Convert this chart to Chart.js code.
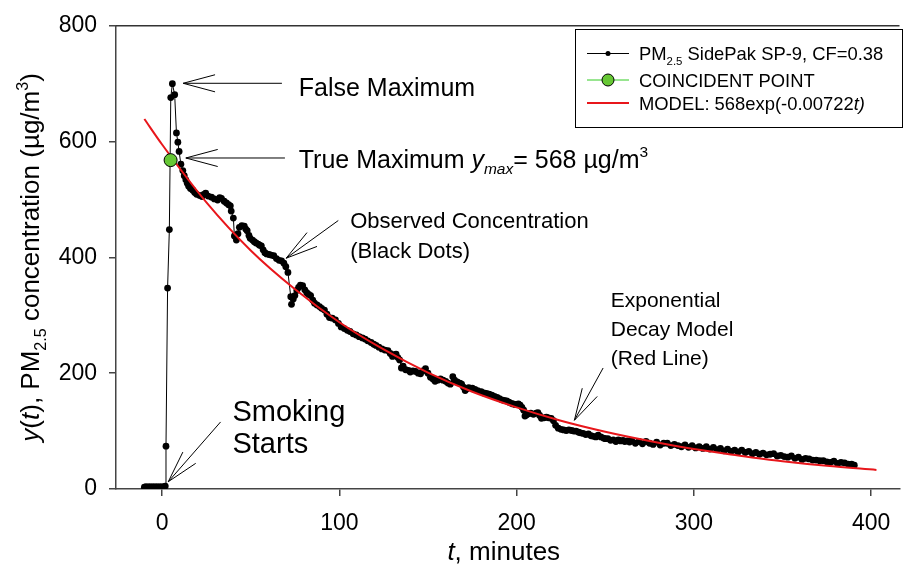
<!DOCTYPE html>
<html>
<head>
<meta charset="utf-8">
<title>PM2.5 Decay</title>
<script src="https://cdn.jsdelivr.net/npm/chart.js"></script>
<style>
  html, body { margin: 0; padding: 0; background: #fff; }
</style>
</head>
<body>
<canvas id="decayChart" width="907" height="567"></canvas>
<script>
// observed SidePak readings (t in minutes, y in ug/m3)
var obsT = [
  -10, -9, -8, -7, -6, -5, -4, -3, -2, -1,
  0, 1, 1.8, 2.2, 3.1, 4.1, 4.9, 5.8, 7.1, 8.1,
  8.9, 9.6, 10.6, 11.7, 12.5, 13.4, 14.2, 15, 16, 17.3,
  18.4, 19.5, 21.2, 22.5, 23.6, 24.6, 26, 27.9, 29.5, 31.3,
  32.5, 33.5, 35, 36.3, 37.5, 38.5, 39, 40.2, 40.8, 41.9,
  42.8, 43.6, 45, 46.4, 47.2, 48, 49, 49.7, 51, 52,
  53, 54.2, 55, 56, 57, 58, 59, 60.3, 61.5, 63,
  64.5, 66, 67.4, 68.7, 69.8, 71, 72.6, 73, 74, 74.9,
  76, 77, 78, 79.3, 80.5, 81.6, 82.7, 83.8, 85, 86,
  87.4, 88.8, 90, 91.6, 93, 94.4, 96, 97.8, 99.5, 101,
  102.8, 104.5, 106, 107.8, 109.5, 111.2, 113, 114.5, 116, 117.9,
  119.4, 120.7, 122.3, 124, 125.7, 127.4, 128.7, 130, 131, 132,
  133, 134, 135, 136, 137.4, 139, 140, 141.5, 143, 144.5,
  145.8, 147, 148.6, 150, 151.4, 152.8, 154, 155.5, 157, 158.5,
  160, 161.3, 162.6, 164, 165, 166.5, 168, 169, 170, 171,
  172, 173, 175, 176.5, 178, 180, 181.5, 183, 184.5, 186,
  187.5, 189, 190.3, 191.6, 193, 194.4, 195.7, 197, 198, 199,
  200, 201, 202, 203, 204, 204.7, 205.5, 206.7, 208, 209.5,
  211, 212, 213, 214, 215.5, 216.8, 218, 219.5, 220.8, 222,
  223.5, 225, 226.5, 228, 229.5, 231, 232.3, 233.5, 235, 236,
  237.5, 239, 240.5, 242, 243.4, 244.7, 246, 247.5, 249, 250,
  251.5, 253, 254.5, 256, 257.4, 258.7, 260, 261, 262.5, 263.7,
  265, 267, 269, 271, 273, 275, 277, 279, 281, 283,
  285, 287, 289, 291, 293, 295, 297, 299, 301, 303,
  305, 307, 309, 311, 313, 315, 317, 319, 321, 323,
  325, 327, 329, 331, 333, 335, 337, 339, 341, 343,
  345, 347, 349, 351, 353, 355, 357, 359, 361, 363,
  365, 367, 369, 371, 373, 375, 377, 379, 381, 383,
  385, 387, 389, 390.5
];
var obsY = [
  3, 4, 3, 4, 3, 4, 3, 4, 3, 4,
  3, 4, 5, 74, 347, 448, 676, 700, 681, 615,
  599, 583, 561, 550, 541, 534, 528, 523, 519, 516,
  512, 509, 507, 505, 509, 511, 506, 504, 501, 499,
  503, 502, 497, 494, 491, 489, 480, 468, 437, 430,
  441, 452, 455, 454, 449, 446, 438, 433, 430, 427,
  425, 423, 421, 420, 413, 408, 406, 405, 404, 403,
  398, 395, 394, 390, 384, 374, 332, 319, 328, 334,
  343, 348, 352, 351, 344, 339, 336, 334, 326, 321,
  318, 315, 312, 309, 302, 296, 295, 292, 286, 280,
  277, 274, 272, 268, 266, 263, 261, 259, 256, 253,
  250, 248, 245, 242, 240, 239, 234, 229, 232, 233,
  227, 223, 209, 212, 206, 205, 202, 204, 203, 200,
  199, 204, 208, 200, 193, 190, 186, 188, 190, 188,
  186, 183, 181, 194, 188, 185, 183, 181, 176, 170,
  173, 175, 174, 172, 170, 168, 166, 165, 164, 162,
  160, 158, 156, 154, 153, 152, 150, 148, 147, 146,
  146, 147, 145, 141, 136, 126, 128, 130, 131, 129,
  131, 132, 127, 122, 123, 124, 123, 122, 118, 110,
  105, 103, 102, 101, 102, 101, 100, 100, 98, 97,
  96, 94, 95, 92, 91, 90, 93, 90, 88, 87,
  87, 84, 85, 82, 85, 83, 84, 82, 83, 81,
  83, 79, 82, 78, 82, 79, 77, 81, 76, 79,
  79, 75, 77, 75, 73, 76, 72, 75, 71, 73,
  70, 73, 69, 72, 68, 70, 66, 69, 65, 67,
  64, 67, 63, 65, 61, 63, 60, 62, 59, 60,
  61, 57, 58, 56, 55, 57, 53, 55, 51, 53,
  52, 50, 50, 49, 49, 47, 46, 48, 44, 46,
  45, 43, 43, 41
];

// coincident point (true maximum)
var peakT = [4.8];
var peakY = [568];

// fitted model curve
var modelT = [-10, 0, 25, 50, 75, 100, 125, 150, 175, 200, 225, 250, 275, 300, 325, 350, 375, 403];
var modelY = [639, 595, 495, 412, 345, 288, 241, 201, 168, 141, 118, 99, 83, 69, 58, 48, 40, 33];

var xTicks = [0, 100, 200, 300, 400];
var yTicks = [0, 200, 400, 600, 800];

var FONT = '"Liberation Sans", Arial, sans-serif';
var RED = '#e8161b';
var GREEN = '#66c734';

function toXY(ts, ys) {
  return ts.map(function (t, i) { return { x: t, y: ys[i] }; });
}

// text notes with arrows, anchored in data units
var notes = [
  { tip: [11.9, 700.7], tail: [67.6, 700.7], at: [77.1, 695], size: 25, gap: 0,
    lines: [[['False Maximum']]] },
  { tip: [13.4, 571.7], tail: [69.3, 571.7], at: [77.1, 570], size: 25, gap: 0,
    lines: [[['True Maximum '], ['y', 'i'], ['max', 'isub'], ['= 568 \u00b5g/m'], ['3', 'sup']]] },
  { tip: [70, 398.6], tail: [99.4, 463.7], at: [106.1, 464.5], size: 22, gap: 30,
    lines: [[['Observed Concentration']], [['(Black Dots)']]] },
  { tip: [232.6, 118.7], tail: [248.8, 209], at: [253.1, 326.9], size: 21, gap: 29,
    lines: [[['Exponential']], [['Decay Model']], [['(Red Line)']]] },
  { tip: [3.5, 12.6], tail: [33, 115.8], at: [39.7, 136], size: 29, gap: 32,
    lines: [[['Smoking']], [['Starts']]] }
];

function drawRich(ctx, x, y, parts, size) {
  var cx = x;
  parts.forEach(function (p) {
    var s = size, dy = 0, style = '';
    if (p[1] === 'i') style = 'italic ';
    if (p[1] === 'sub' || p[1] === 'isub') { s = size * 0.62; dy = size * 0.25; }
    if (p[1] === 'isub') style = 'italic ';
    if (p[1] === 'sup') { s = size * 0.62; dy = -size * 0.42; }
    ctx.font = style + s + 'px ' + FONT;
    ctx.fillText(p[0], cx, y + dy);
    cx += ctx.measureText(p[0]).width;
  });
  return cx;
}

function richWidth(ctx, parts, size) {
  var w = 0;
  parts.forEach(function (p) {
    var s = size, style = '';
    if (p[1] === 'i' || p[1] === 'isub') style = 'italic ';
    if (p[1] === 'sub' || p[1] === 'isub' || p[1] === 'sup') s = size * 0.62;
    ctx.font = style + s + 'px ' + FONT;
    w += ctx.measureText(p[0]).width;
  });
  return w;
}

function drawArrow(ctx, tip, tail) {
  var ang = Math.atan2(tail.y - tip.y, tail.x - tip.x);
  var L = 33, h = 15 * Math.PI / 180;
  ctx.beginPath();
  ctx.moveTo(tail.x, tail.y);
  ctx.lineTo(tip.x, tip.y);
  ctx.moveTo(tip.x + L * Math.cos(ang - h), tip.y + L * Math.sin(ang - h));
  ctx.lineTo(tip.x, tip.y);
  ctx.lineTo(tip.x + L * Math.cos(ang + h), tip.y + L * Math.sin(ang + h));
  ctx.stroke();
}

var extras = {
  id: 'extras',
  afterDatasetsDraw: function (chart) {
    var ctx = chart.ctx, a = chart.chartArea;
    var xs = chart.scales.x, ys = chart.scales.y;
    ctx.save();
    ctx.fillStyle = '#000';
    ctx.textAlign = 'left';
    ctx.textBaseline = 'alphabetic';

    // top frame line
    ctx.strokeStyle = '#333';
    ctx.lineWidth = 1.5;
    ctx.beginPath();
    ctx.moveTo(a.left, a.top);
    ctx.lineTo(a.right, a.top);
    ctx.stroke();

    // notes + arrows
    ctx.strokeStyle = '#000';
    ctx.lineWidth = 1;
    notes.forEach(function (n) {
      var tip = { x: xs.getPixelForValue(n.tip[0]), y: ys.getPixelForValue(n.tip[1]) };
      var tail = { x: xs.getPixelForValue(n.tail[0]), y: ys.getPixelForValue(n.tail[1]) };
      drawArrow(ctx, tip, tail);
      var x = xs.getPixelForValue(n.at[0]);
      var y = ys.getPixelForValue(n.at[1]) + n.size * 0.36;
      n.lines.forEach(function (ln, i) {
        drawRich(ctx, x, y + i * n.gap, ln, n.size);
      });
    });

    // legend box
    var bx = 575, by = 29, bw = 327, bh = 98;
    ctx.fillStyle = '#fff';
    ctx.fillRect(bx, by, bw, bh);
    ctx.strokeStyle = '#000';
    ctx.lineWidth = 1;
    ctx.strokeRect(bx + 0.5, by + 0.5, bw, bh);
    var rows = [
      { y: 53.5, color: '#000', lw: 1, dot: 2.5, fill: '#000',
        parts: [['PM'], ['2.5', 'sub'], [' SidePak SP-9, CF=0.38']] },
      { y: 80, color: '#33cc22', lw: 1, dot: 6, fill: GREEN,
        parts: [['COINCIDENT POINT']] },
      { y: 103, color: RED, lw: 2, dot: 0, fill: RED,
        parts: [['MODEL: 568exp(-0.00722'], ['t)', 'i']] }
    ];
    rows.forEach(function (r) {
      ctx.strokeStyle = r.color;
      ctx.lineWidth = r.lw;
      ctx.beginPath();
      ctx.moveTo(587, r.y);
      ctx.lineTo(629, r.y);
      ctx.stroke();
      if (r.dot) {
        ctx.beginPath();
        ctx.arc(608, r.y, r.dot, 0, Math.PI * 2);
        ctx.fillStyle = r.fill;
        ctx.fill();
        if (r.dot > 3) { ctx.strokeStyle = '#000'; ctx.lineWidth = 1; ctx.stroke(); }
      }
      ctx.fillStyle = '#000';
      drawRich(ctx, 639, r.y + 18.4 * 0.36, r.parts, 18.4);
    });

    // axis titles
    var xt = [['t', 'i'], [', minutes']];
    var w = richWidth(ctx, xt, 26);
    drawRich(ctx, (a.left + a.right) / 2 - w / 2 - 4, 560, xt, 26);

    var yt = [['y', 'i'], ['('], ['t', 'i'], ['), PM'], ['2.5', 'sub'], [' concentration (\u00b5g/m'], ['3', 'sup'], [')']];
    w = richWidth(ctx, yt, 26);
    ctx.translate(39, (a.top + a.bottom) / 2);
    ctx.rotate(-Math.PI / 2);
    drawRich(ctx, -w / 2, 0, yt, 26);
    ctx.restore();
  }
};

var ctx = document.getElementById('decayChart').getContext('2d');
var chart = new Chart(ctx, {
  type: 'scatter',
  data: {
    datasets: [
      {
        label: 'COINCIDENT POINT',
        data: toXY(peakT, peakY),
        showLine: false,
        pointRadius: 6.5,
        pointBackgroundColor: GREEN,
        pointBorderColor: '#000',
        pointBorderWidth: 1
      },
      {
        label: 'MODEL',
        data: toXY(modelT, modelY),
        showLine: true,
        borderColor: RED,
        borderWidth: 2,
        pointRadius: 0,
        cubicInterpolationMode: 'monotone'
      },
      {
        label: 'PM2.5 SidePak SP-9, CF=0.38',
        data: toXY(obsT, obsY),
        showLine: true,
        borderColor: '#000',
        borderWidth: 1,
        pointRadius: 3.4,
        pointBackgroundColor: '#000',
        pointBorderWidth: 0
      }
    ]
  },
  options: {
    responsive: false,
    devicePixelRatio: 1,
    animation: false,
    events: [],
    layout: { padding: { top: 24, right: 0, bottom: 0, left: 0 } },
    plugins: {
      legend: { display: false },
      tooltip: { enabled: false }
    },
    scales: {
      x: {
        type: 'linear',
        min: -26,
        max: 416,
        afterBuildTicks: function (s) { s.ticks = xTicks.map(function (v) { return { value: v }; }); },
        afterFit: function (s) { s.height = 78; },
        grid: { drawOnChartArea: false, drawTicks: true, tickLength: 7, color: '#444', lineWidth: 1.5 },
        border: { display: true, color: '#444', width: 1.5 },
        ticks: { color: '#000', font: { family: FONT, size: 23 }, padding: 14, maxRotation: 0 }
      },
      y: {
        min: 0,
        max: 800,
        afterBuildTicks: function (s) { s.ticks = yTicks.map(function (v) { return { value: v }; }); },
        afterFit: function (s) { s.width = 116; },
        grid: { drawOnChartArea: false, drawTicks: true, tickLength: 7, color: '#444', lineWidth: 1.5 },
        border: { display: true, color: '#444', width: 1.5 },
        ticks: { color: '#000', font: { family: FONT, size: 23 }, padding: 12 }
      }
    }
  },
  plugins: [extras]
});
</script>
</body>
</html>
